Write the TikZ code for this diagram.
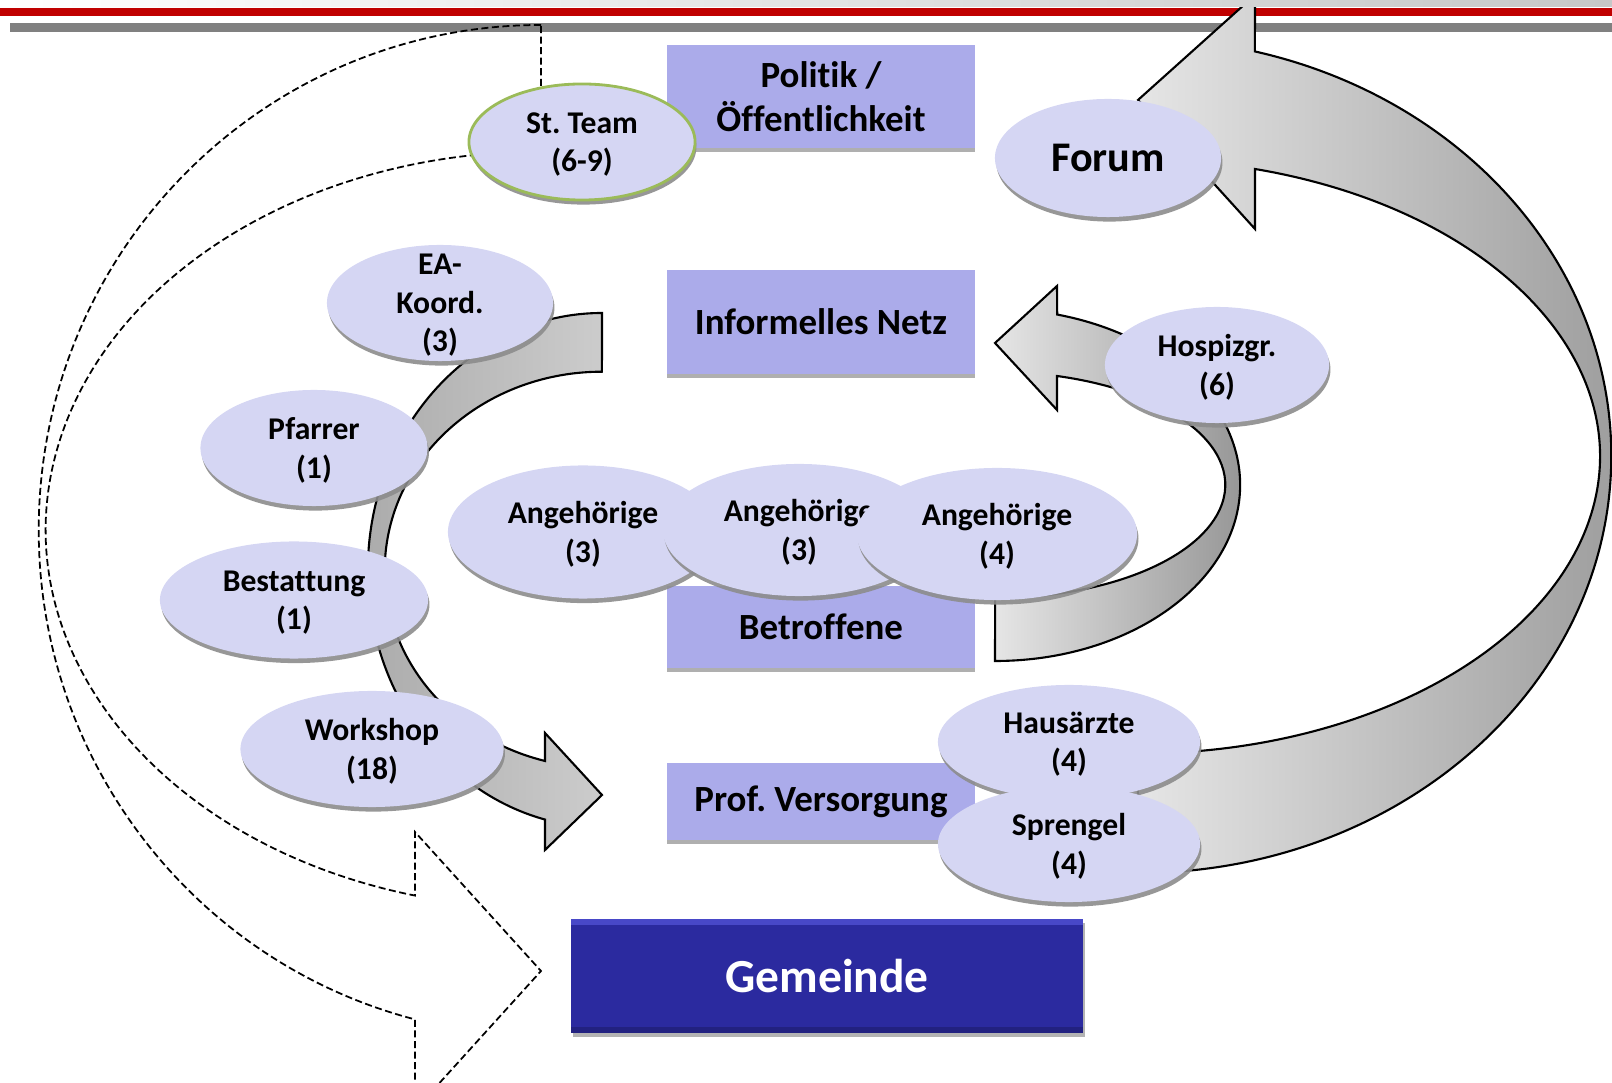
\documentclass[tikz,border=0pt]{standalone}
\usepackage{fontspec}
\setmainfont{Carlito}[Ligatures=NoCommon]
\frenchspacing
\usetikzlibrary{shapes.geometric, shadows, positioning}

\definecolor{ellFill}{RGB}{213,214,243}
\definecolor{boxFill}{RGB}{171,171,234}
\definecolor{gemBlue}{RGB}{43,42,159}
\definecolor{gemLight}{RGB}{72,72,200}
\definecolor{gemDark}{RGB}{34,33,128}
\definecolor{teamGreen}{RGB}{155,187,89}
\definecolor{barRed}{RGB}{192,0,0}
\definecolor{barGray}{RGB}{128,128,128}

\begin{document}
\begin{tikzpicture}[
    x=0.01cm, y=0.01cm,
    kreis/.style={ellipse, fill=ellFill, inner sep=0pt, align=center, text depth=0pt, font=\fontsize{9}{10.9}\selectfont\bfseries,
        drop shadow={shadow xshift=0.4pt, shadow yshift=-1.3pt, fill=black!45, opacity=0.9}},
    feld/.style={rectangle, fill=boxFill, inner sep=0pt, align=center, minimum width=3.08cm, font=\fontsize{10.5}{12.5}\selectfont\bfseries,
        drop shadow={shadow xshift=0pt, shadow yshift=-1.2pt, fill=black!35, opacity=0.9}},
    gemeinde/.style={rectangle, fill=gemBlue, minimum width=5.12cm, minimum height=1.14cm, text=white, font=\fontsize{13.5}{16}\selectfont\bfseries,
        drop shadow={shadow xshift=0.6pt, shadow yshift=-1.2pt, fill=black!50, opacity=0.6},
        path picture={\fill[gemLight] (path picture bounding box.north west) rectangle ([yshift=-1.6pt]path picture bounding box.north east);
                      \fill[gemDark] (path picture bounding box.south west) rectangle ([yshift=1.6pt]path picture bounding box.south east);}},
    band/.style={draw=black, line width=0.6pt, line join=miter},
    strich/.style={draw=black, line width=0.5pt, dash pattern=on 2pt off 1pt}
]
    \clip (0,0) rectangle (1612,-1083);

    % TOP BARS
    \fill[barRed] (0,-8) rectangle (1612,-16);
    \fill[barGray] (10,-23) rectangle (1612,-32);

    % DASHED LOOP: St. Team -> Gemeinde
    \draw[strich] (541,-25) arc[start angle=90, end angle=255.46, x radius=5.02cm, y radius=5.05cm]
        -- (415,-1110) -- (541,-971) -- (415,-832) -- (415,-895.6)
        arc[start angle=255.26, end angle=90, x radius=4.95cm, y radius=3.78cm] -- cycle;

    % LEFT: curved arrow down to Prof. Versorgung
    \draw[band, left color=black!33, right color=black!20] (602,-313)
        arc[start angle=90, end angle=255.9, x radius=2.34cm, y radius=2.57cm]
        -- (545,-850) -- (602,-795) -- (545,-733) -- (545,-761)
        arc[start angle=254.8, end angle=90, x radius=2.17cm, y radius=1.98cm] -- cycle;

    % MIDDLE RIGHT: curved arrow up to Informelles Netz
    \draw[band, left color=black!10, right color=black!42] (995,-661)
        arc[start angle=270, end angle=435.3, x radius=2.45cm, y radius=1.76cm]
        -- (1057,-286) -- (995,-343) -- (1057,-410) -- (1057,-376)
        arc[start angle=434.4, end angle=270, x radius=2.30cm, y radius=1.13cm] -- cycle;

    % OUTER RIGHT: big curved arrow up to Forum
    \draw[band, left color=black!10, right color=black!40] (1138,-873)
        arc[start angle=270, end angle=435.7, x radius=4.73cm, y radius=4.17cm]
        -- (1255,5) -- (1138,-100) -- (1255,-229) -- (1255,-169)
        arc[start angle=435.3, end angle=270, x radius=4.62cm, y radius=2.97cm] -- cycle;

    \shade[left color=white, right color=black!22] (0,0) rectangle (1612,-7);

    % LEVELS
    \node (Politik) [feld, minimum height=1.03cm] at (821,-96.5) {Politik /\\Öffentlichkeit};
    \node (Netz) [feld, minimum height=1.04cm] at (821,-322) {Informelles Netz};
    \node (Betroffene) [feld, minimum height=0.82cm] at (821,-627) {Betroffene};
    \node (ProfV) [feld, minimum height=0.77cm] at (821,-801.5) {Prof. Versorgung};
    \node (Gemeinde) [gemeinde] at (827,-976) {Gemeinde};

    % GROUPS
    \node (StTeam) [kreis, draw=teamGreen, line width=0.8pt, minimum width=2.26cm, minimum height=1.16cm] at (582,-142) {St. Team\\(6-9)};
    \node (Forum) [kreis, minimum width=2.26cm, minimum height=1.18cm, font=\fontsize{12}{14}\selectfont\bfseries] at (1108,-158) {Forum};
    \node (EAKoord) [kreis, inner ysep=-8pt, minimum width=2.26cm, minimum height=1.16cm] at (440,-303) {EA-\\Koord.\\(3)};
    \node (Hospiz) [kreis, minimum width=2.24cm, minimum height=1.16cm] at (1217,-365) {Hospizgr.\\(6)};
    \node (Pfarrer) [kreis, minimum width=2.27cm, minimum height=1.16cm] at (314,-448) {Pfarrer\\(1)};
    \node (Angeh1) [kreis, minimum width=2.70cm, minimum height=1.33cm] at (583,-532) {Angehörige\\(3)};
    \node (Angeh2) [kreis, minimum width=2.72cm, minimum height=1.32cm] at (799,-530) {Angehörige\\(3)};
    \node (Angeh3) [kreis, minimum width=2.80cm, minimum height=1.32cm] at (997,-534) {Angehörige\\(4)};
    \node (Bestattung) [kreis, minimum width=2.68cm, minimum height=1.17cm] at (294,-600) {Bestattung\\(1)};
    \node (Workshop) [kreis, minimum width=2.63cm, minimum height=1.16cm] at (372,-749) {Workshop\\(18)};
    \node (Hausarzt) [kreis, minimum width=2.62cm, minimum height=1.14cm] at (1069,-742) {Hausärzte\\(4)};
    \node (Sprengel) [kreis, minimum width=2.62cm, minimum height=1.16cm] at (1069,-844) {Sprengel\\(4)};
\end{tikzpicture}
\end{document}
